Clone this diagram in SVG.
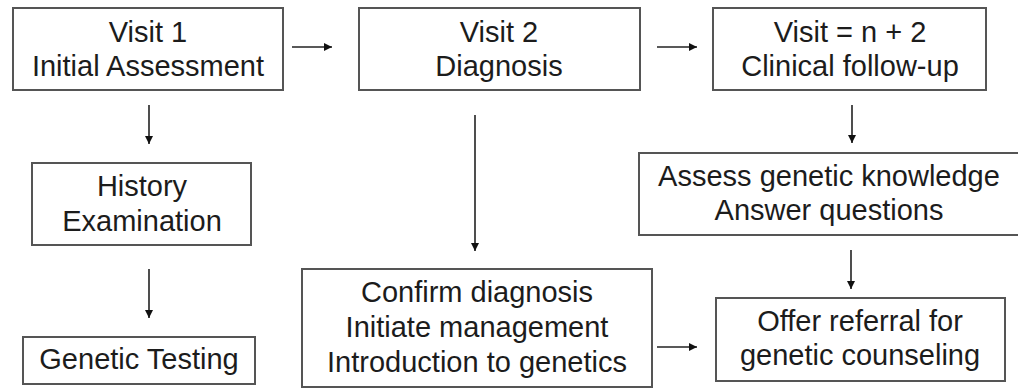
<svg xmlns="http://www.w3.org/2000/svg" width="1018" height="389" viewBox="0 0 1018 389">
<style>
.box{fill:#fff;stroke:#555;stroke-width:2}
.t{font-family:"Liberation Sans",Arial,sans-serif;font-size:29px;fill:#1c1c1c;text-anchor:middle}
.c{stroke:#222;stroke-width:1.6;fill:none;marker-end:url(#ah)}
</style>
<defs>
<marker id="ah" markerWidth="10" markerHeight="10" refX="8" refY="4" orient="auto" markerUnits="userSpaceOnUse">
<path d="M0,0 L8,4 L0,8 Z" fill="#111"/>
</marker>
</defs>
<rect width="1018" height="389" fill="#fff"/>
<g id="connectors">
<line class="c" x1="292" y1="47" x2="332" y2="47"/>
<line class="c" x1="657" y1="47" x2="697" y2="47"/>
<line class="c" x1="149" y1="105" x2="149" y2="144"/>
<line class="c" x1="149" y1="269" x2="149" y2="318"/>
<line class="c" x1="475" y1="115" x2="475" y2="251"/>
<line class="c" x1="852" y1="105" x2="852" y2="143"/>
<line class="c" x1="851" y1="250" x2="851" y2="289"/>
<line class="c" x1="657" y1="347" x2="697" y2="347"/>
</g>
<g id="visit1">
<rect class="box" x="13" y="8" width="270" height="82"/>
<text class="t" x="148" y="42">Visit 1</text>
<text class="t" x="148" y="76">Initial Assessment</text>
</g>
<g id="visit2">
<rect class="box" x="359" y="8" width="281" height="82"/>
<text class="t" x="499" y="42">Visit 2</text>
<text class="t" x="499" y="76">Diagnosis</text>
</g>
<g id="visit3">
<rect class="box" x="713" y="8" width="273" height="82"/>
<text class="t" x="850" y="42">Visit = n + 2</text>
<text class="t" x="850" y="76">Clinical follow-up</text>
</g>
<g id="history">
<rect class="box" x="32" y="163" width="219" height="82"/>
<text class="t" x="142" y="196">History</text>
<text class="t" x="142" y="231">Examination</text>
</g>
<g id="genetic-testing">
<rect class="box" x="23" y="337" width="232" height="47"/>
<text class="t" x="139" y="369">Genetic Testing</text>
</g>
<g id="confirm">
<rect class="box" x="302" y="269" width="350" height="118"/>
<text class="t" x="477" y="302">Confirm diagnosis</text>
<text class="t" x="477" y="337">Initiate management</text>
<text class="t" x="477" y="372">Introduction to genetics</text>
</g>
<g id="assess">
<rect class="box" x="639" y="153" width="385" height="82"/>
<text class="t" x="829" y="186">Assess genetic knowledge</text>
<text class="t" x="829" y="220">Answer questions</text>
</g>
<g id="offer">
<rect class="box" x="716" y="298" width="289" height="83"/>
<text class="t" x="860" y="331">Offer referral for</text>
<text class="t" x="860" y="365">genetic counseling</text>
</g>
</svg>
